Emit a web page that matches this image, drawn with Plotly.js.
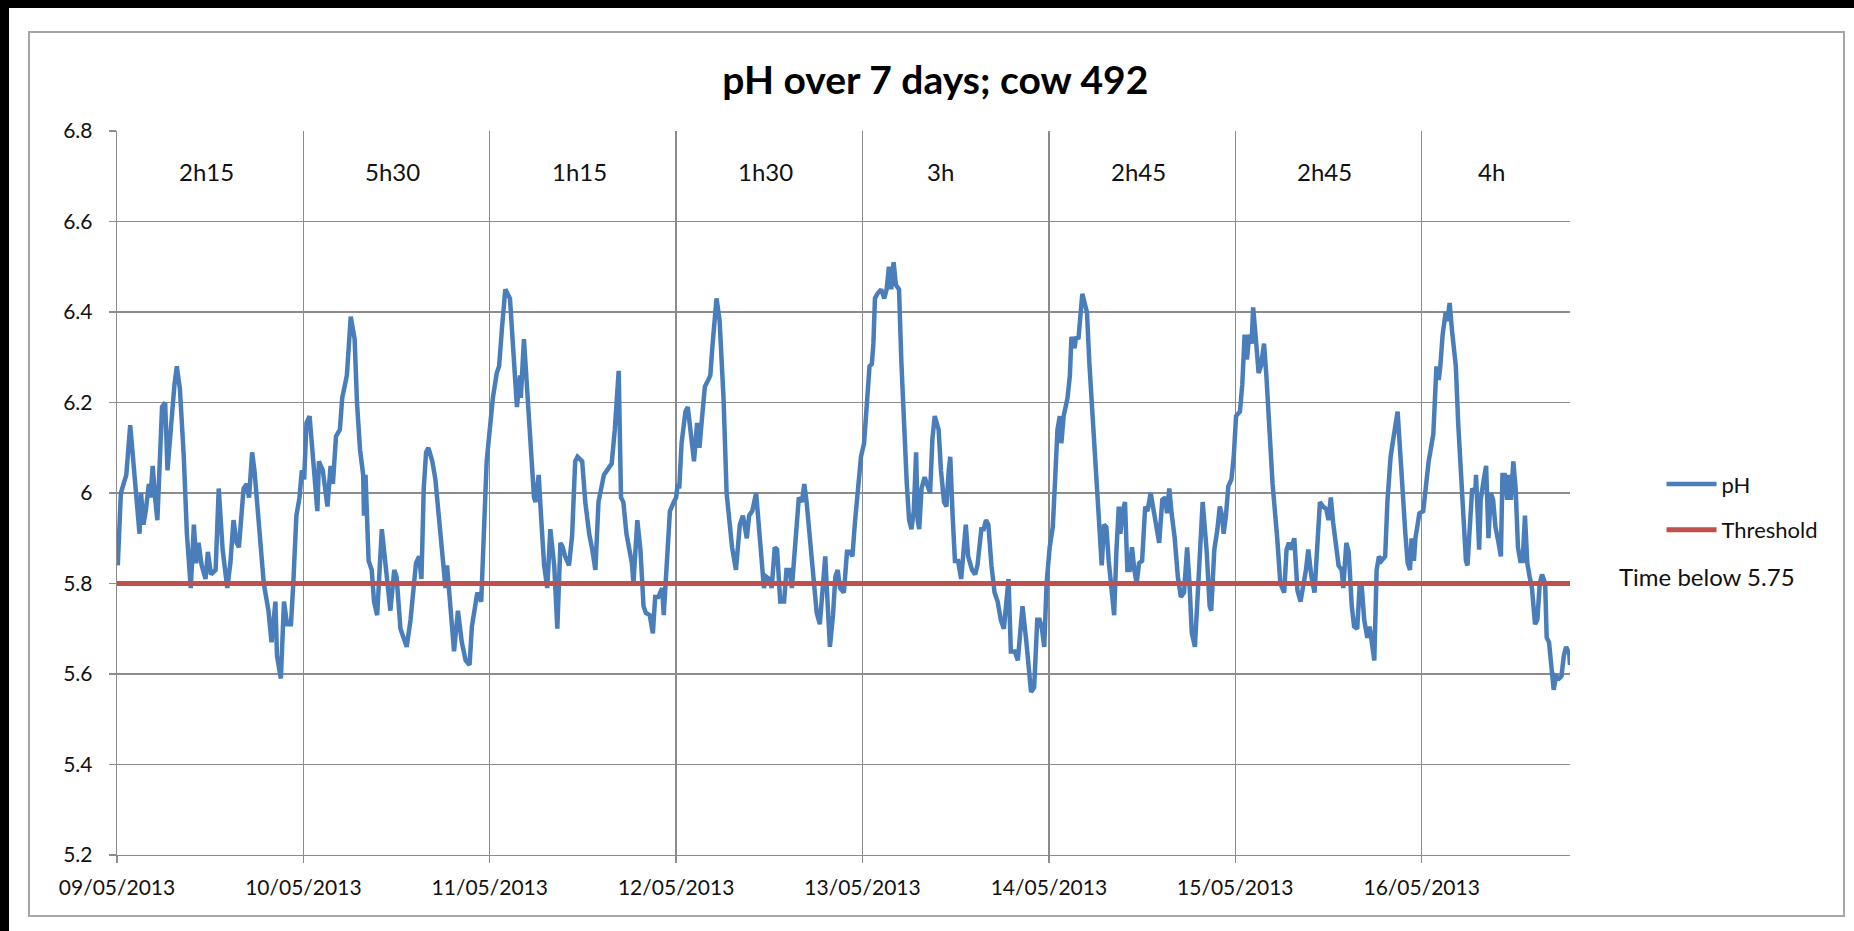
<!DOCTYPE html>
<html>
<head>
<meta charset="utf-8">
<script src="https://cdn.plot.ly/plotly-3.0.1.min.js"></script>
<style>
  html, body { margin: 0; padding: 0; background: #ffffff; }
  #wrap { position: relative; width: 1854px; height: 931px; overflow: hidden; background: #ffffff; }
  #barTop { position: absolute; left: 0; top: 0; width: 1854px; height: 8px; background: #000; }
  #barLeft { position: absolute; left: 0; top: 0; width: 9px; height: 931px; background: #000; }
  #frame { position: absolute; left: 28px; top: 31px; width: 1813px; height: 882px; border: 2px solid #a6a6a6; background: #fff; }
  #chart { position: absolute; left: 0; top: 0; width: 1854px; height: 931px; }
</style>
</head>
<body>
<div id="wrap">
  <div id="barTop"></div>
  <div id="barLeft"></div>
  <div id="frame"></div>
  <div id="chart"></div>
</div>
<script>
// ---- data (hours since 09/05/2013 00:00, pH) ----
const phHours = [
  0.1,0.5,1.2,1.7,2.1,2.9,3.1,3.4,3.7,4.1,4.3,4.6,4.9,5.2,5.8,6.2,6.5,6.9,7.4,7.7,8.1,8.6,9.0,9.5,9.9,10.2,10.5,10.9,11.4,11.7,12.1,12.7,13.1,13.6,14.2,14.6,15.0,15.4,15.7,16.3,16.7,17.0,17.4,17.7,18.5,18.9,19.5,19.9,20.4,20.6,21.1,21.5,21.9,22.4,22.7,23.1,23.5,23.8,
  24.1,24.4,24.8,25.3,25.8,26.0,26.5,27.1,27.5,27.8,28.2,28.7,29.0,29.6,30.1,30.6,30.9,31.3,31.7,31.8,32.0,32.4,32.8,33.1,33.5,34.1,34.6,35.2,35.7,36.0,36.5,37.3,37.8,38.5,38.9,39.2,39.5,39.8,40.1,40.6,41.0,41.5,42.0,42.3,42.5,43.0,43.4,43.9,44.4,44.9,45.4,45.7,46.4,46.9,47.2,47.6,
  48.0,48.4,48.9,49.2,49.6,50.0,50.6,51.1,51.5,51.9,52.0,52.4,52.8,53.2,53.7,53.9,54.3,54.6,55.0,55.4,55.8,56.3,56.7,57.1,57.4,57.7,58.2,58.6,59.0,59.3,59.9,60.3,60.8,61.2,61.6,62.0,62.7,63.1,63.7,64.1,64.6,64.9,65.2,65.6,66.3,66.5,67.0,67.4,67.8,68.1,68.6,69.0,69.3,69.7,70.2,70.4,70.8,71.2,71.7,
  72.0,72.2,72.4,72.7,73.2,73.5,73.9,74.3,74.7,75.0,75.3,75.7,76.0,76.4,76.7,77.2,77.6,78.1,78.5,79.2,79.7,80.2,80.6,81.1,81.4,81.8,82.3,82.5,82.9,83.3,83.6,84.0,84.3,84.7,85.0,85.4,85.9,86.2,86.6,86.9,87.3,87.8,88.2,88.5,88.8,89.2,89.7,90.1,90.5,90.9,91.2,91.5,91.8,92.2,92.5,92.8,93.1,93.6,94.0,94.4,94.7,95.0,95.4,95.8,
  96.2,96.6,96.9,97.2,97.4,97.6,97.9,98.4,98.8,99.1,99.4,99.7,100.0,100.3,100.7,101.0,101.3,101.7,102.0,102.3,102.6,102.9,103.1,103.3,103.6,104.0,104.3,104.7,105.0,105.3,105.8,106.1,106.5,106.8,107.1,107.3,107.6,107.9,108.3,108.7,109.0,109.3,109.6,110.1,110.5,110.8,111.3,111.6,111.9,112.2,112.6,113.0,113.4,113.8,114.2,114.5,114.8,115.1,115.6,116.0,116.3,116.6,117.1,117.7,118.1,118.5,118.8,119.1,119.4,119.7,
  120.1,120.5,120.8,121.1,121.4,121.6,121.9,122.4,122.7,122.9,123.3,123.5,123.8,124.1,124.3,124.6,124.9,125.2,125.5,125.9,126.4,126.6,126.8,127.1,127.4,127.7,128.0,128.4,128.7,129.0,129.2,129.5,129.8,130.1,130.4,130.7,131.0,131.3,131.6,132.0,132.4,132.7,133.1,133.4,133.9,134.2,134.6,135.0,135.2,135.5,135.8,136.2,136.6,137.0,137.4,137.8,138.1,138.4,138.8,139.2,139.5,139.8,140.3,140.7,140.9,141.3,141.7,142.0,142.3,142.5,142.8,143.1,143.5,143.8,
  144.1,144.6,144.9,145.2,145.5,145.8,146.1,146.3,146.7,147.0,147.3,147.7,148.0,148.4,148.8,149.4,149.8,150.3,150.6,150.9,151.2,151.6,152.0,152.4,152.8,153.1,153.4,153.8,154.2,154.6,154.9,155.3,155.7,156.0,156.3,156.6,157.0,157.3,157.7,157.9,158.3,158.6,159.0,159.3,159.7,160.0,160.3,160.6,161.0,161.3,161.5,161.9,162.2,162.5,162.8,163.3,163.6,164.0,164.4,164.9,165.2,165.5,165.9,166.2,166.5,166.7,167.0,167.2,167.7,
  168.2,168.5,168.9,169.5,169.7,169.9,170.2,170.4,170.7,171.1,171.3,171.6,171.9,172.4,172.7,173.0,173.3,173.7,173.9,174.2,174.5,174.9,175.0,175.4,175.6,176.0,176.3,176.6,176.9,177.2,177.5,177.9,178.2,178.4,178.7,179.0,179.2,179.5,179.8,180.1,180.4,180.7,181.0,181.3,181.6,181.9,182.2,182.6,182.9,183.2,183.5,183.9,184.1,184.4,184.8,185.0,185.3,185.7,186.0,186.3,186.6,187.0,187.1
];
const phValues = [
  5.84,6.00,6.04,6.15,6.07,5.91,6.00,5.93,5.96,6.02,5.99,6.06,5.99,5.94,6.19,6.20,6.05,6.15,6.24,6.28,6.23,6.08,5.91,5.79,5.93,5.845,5.89,5.84,5.81,5.87,5.82,5.83,6.01,5.875,5.79,5.845,5.94,5.89,5.88,6.01,6.02,5.99,6.09,6.05,5.875,5.80,5.74,5.67,5.76,5.64,5.59,5.76,5.71,5.71,5.80,5.95,5.99,6.05,
  6.03,6.155,6.17,6.07,5.96,6.07,6.05,5.97,6.06,6.02,6.125,6.14,6.21,6.26,6.39,6.34,6.20,6.095,6.04,5.95,6.04,5.85,5.83,5.76,5.73,5.92,5.83,5.74,5.83,5.815,5.70,5.66,5.72,5.845,5.86,5.81,6.01,6.09,6.10,6.07,6.03,5.93,5.845,5.79,5.84,5.74,5.65,5.74,5.67,5.63,5.62,5.705,5.78,5.76,5.875,6.07,
  6.14,6.21,6.265,6.28,6.37,6.45,6.43,6.30,6.19,6.26,6.21,6.34,6.22,6.10,5.99,5.98,6.04,5.95,5.84,5.79,5.92,5.84,5.70,5.89,5.88,5.86,5.84,5.905,6.07,6.08,6.07,5.98,5.91,5.875,5.83,5.98,6.04,6.05,6.065,6.14,6.27,5.99,5.98,5.91,5.845,5.80,5.94,5.875,5.75,5.735,5.73,5.69,5.77,5.77,5.79,5.73,5.83,5.96,5.98,
  5.99,6.02,6.01,6.11,6.18,6.19,6.125,6.07,6.155,6.10,6.16,6.235,6.245,6.26,6.33,6.43,6.38,6.21,6.00,5.88,5.83,5.93,5.95,5.90,5.95,5.96,6.00,5.95,5.875,5.79,5.815,5.81,5.79,5.88,5.875,5.76,5.76,5.83,5.83,5.79,5.89,5.99,5.98,6.02,5.98,5.91,5.80,5.735,5.71,5.79,5.86,5.757,5.66,5.73,5.815,5.83,5.79,5.78,5.87,5.87,5.86,5.93,6.02,6.08,
  6.11,6.21,6.28,6.285,6.33,6.43,6.44,6.45,6.43,6.45,6.50,6.45,6.51,6.46,6.45,6.29,6.15,6.02,5.94,5.92,5.96,6.09,5.94,5.92,6.01,6.035,6.02,6.00,6.12,6.17,6.14,6.05,5.98,5.97,6.05,6.08,5.95,5.85,5.85,5.81,5.87,5.93,5.86,5.83,5.82,5.84,5.92,5.92,5.94,5.93,5.84,5.78,5.76,5.72,5.70,5.75,5.81,5.65,5.65,5.63,5.68,5.75,5.67,5.56,5.57,5.72,5.72,5.70,5.66,5.80,
  5.88,5.925,6.03,6.14,6.17,6.11,6.17,6.21,6.26,6.345,6.32,6.345,6.34,6.41,6.44,6.42,6.40,6.29,6.20,6.08,5.95,5.86,5.84,5.93,5.925,5.85,5.80,5.73,5.875,5.97,5.91,5.96,5.98,5.83,5.83,5.88,5.83,5.80,5.845,5.85,5.97,5.96,6.00,5.97,5.91,5.89,5.985,5.99,5.955,6.01,5.955,5.90,5.815,5.77,5.78,5.88,5.80,5.69,5.66,5.80,5.91,5.98,5.875,5.75,5.74,5.875,5.92,5.97,5.95,5.91,5.95,6.015,6.03,6.08,
  6.17,6.18,6.24,6.35,6.295,6.35,6.33,6.41,6.33,6.265,6.28,6.33,6.26,6.125,6.02,5.90,5.80,5.78,5.875,5.89,5.875,5.90,5.785,5.76,5.795,5.83,5.875,5.815,5.78,5.89,5.98,5.97,5.965,5.94,5.99,5.935,5.875,5.84,5.83,5.79,5.89,5.87,5.75,5.705,5.70,5.79,5.79,5.72,5.68,5.705,5.68,5.63,5.83,5.86,5.85,5.86,5.985,6.08,6.125,6.18,6.10,6.01,5.91,5.845,5.83,5.90,5.85,5.90,5.955,
  5.96,6.01,6.07,6.13,6.21,6.28,6.25,6.28,6.35,6.40,6.38,6.42,6.36,6.28,6.155,6.06,5.97,5.85,5.84,5.95,6.01,6.00,6.04,5.875,5.985,6.03,6.06,5.90,6.00,5.985,5.925,5.89,5.86,6.04,6.04,5.985,6.04,5.985,6.07,6.01,5.88,5.85,5.85,5.95,5.845,5.815,5.79,5.71,5.72,5.80,5.82,5.80,5.68,5.67,5.60,5.565,5.595,5.59,5.595,5.64,5.66,5.645,5.62
];
const thresholdValue = 5.8;
const xEnd = 187.1;
const dayTickHours = [0,24,48,72,96,120,144,168];
const dayTickLabels = ['09/05/2013','10/05/2013','11/05/2013','12/05/2013','13/05/2013','14/05/2013','15/05/2013','16/05/2013'];
const timeBelowLabels = ['2h15','5h30','1h15','1h30','3h','2h45','2h45','4h'];
const yTicks = [5.2,5.4,5.6,5.8,6.0,6.2,6.4,6.6,6.8];
const yTickLabels = ['5.2','5.4','5.6','5.8','6','6.2','6.4','6.6','6.8'];

const FONT = 'Lato, "Open Sans", sans-serif';
const GRID = '#8c8c8c';

const traces = [
  {
    x: phHours, y: phValues, name: 'pH', type: 'scatter', mode: 'lines',
    line: {color: '#4a7ebb', width: 4.5}, legendgroup: 'a', hoverinfo: 'skip'
  },
  {
    x: [0, xEnd], y: [thresholdValue, thresholdValue], name: 'Threshold', type: 'scatter', mode: 'lines',
    line: {color: '#c0504d', width: 5}, legendgroup: 'b', hoverinfo: 'skip'
  }
];

const annotations = timeBelowLabels.map((t, i) => {
  const a = dayTickHours[i];
  const b = Math.min(a + 24, xEnd);
  return {
    x: (a + b) / 2 - 0.5, y: 6.71, xref: 'x', yref: 'y', text: t, showarrow: false,
    xshift: (t === '3h') ? -11 : 0,
    xanchor: 'center', yanchor: 'middle', font: {family: FONT, size: 24, color: '#111'}
  };
});
annotations.push({
  x: 1.094, y: 0.384, xref: 'paper', yref: 'paper', text: 'Time below 5.75', showarrow: false,
  xanchor: 'center', yanchor: 'middle', font: {family: FONT, size: 24, color: '#111'}
});

const layout = {
  width: 1854, height: 931,
  margin: {l: 117, r: 284, t: 131, b: 76},
  paper_bgcolor: 'rgba(0,0,0,0)',
  plot_bgcolor: 'rgba(0,0,0,0)',
  title: {
    text: '<b>pH over 7 days; cow 492</b>', xref: 'container', yref: 'container',
    x: 0.5045, y: 0.914, xanchor: 'center', yanchor: 'middle',
    font: {family: FONT, size: 39, color: '#000'}
  },
  xaxis: {
    range: [0, xEnd], tickmode: 'array', tickvals: dayTickHours, ticktext: dayTickLabels,
    showgrid: true, gridcolor: GRID, gridwidth: 1.3, zeroline: false,
    showline: true, linecolor: GRID, linewidth: 1.3,
    ticks: 'outside', ticklen: 7, tickcolor: GRID, tickwidth: 1.3,
    ticklabelstandoff: 6,
    tickfont: {family: FONT, size: 21, color: '#111'}, fixedrange: true
  },
  yaxis: {
    range: [5.2, 6.8], tickmode: 'array', tickvals: yTicks, ticktext: yTickLabels,
    showgrid: true, gridcolor: GRID, gridwidth: 1.3, zeroline: false,
    showline: true, linecolor: GRID, linewidth: 1.3,
    ticks: 'outside', ticklen: 7, tickcolor: GRID, tickwidth: 1.3,
    ticklabelstandoff: 12,
    tickfont: {family: FONT, size: 21, color: '#111'}, fixedrange: true
  },
  showlegend: true,
  legend: {
    x: 1.063, y: 0.541, xanchor: 'left', yanchor: 'top',
    traceorder: 'grouped', tracegroupgap: 14, itemwidth: 50,
    font: {family: FONT, size: 22, color: '#111'},
    bgcolor: 'rgba(0,0,0,0)', borderwidth: 0
  },
  annotations: annotations
};

Plotly.newPlot('chart', traces, layout, {staticPlot: true, displayModeBar: false});
</script>
</body>
</html>
